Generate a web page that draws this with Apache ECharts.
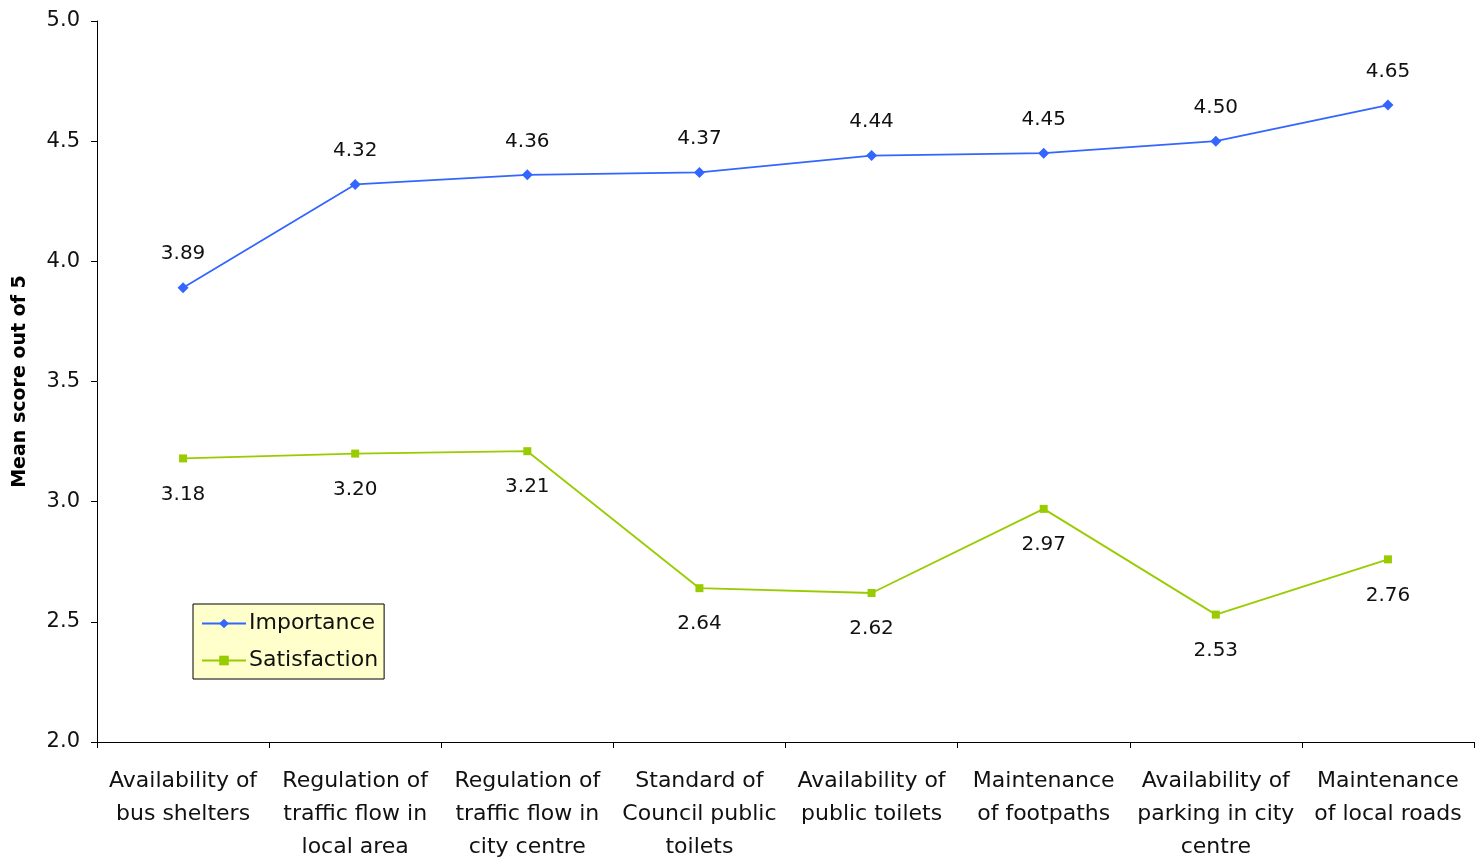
<!DOCTYPE html>
<html><head><meta charset="utf-8">
<script src="https://cdn.jsdelivr.net/npm/echarts@6/dist/echarts.min.js"></script>
<style>html,body{margin:0;padding:0;background:#fff}#c{width:1484px;height:861px}</style>
</head><body><div id="c"></div>
<script>
const categories = [
  "Availability of\nbus shelters",
  "Regulation of\ntraffic flow in\nlocal area",
  "Regulation of\ntraffic flow in\ncity centre",
  "Standard of\nCouncil public\ntoilets",
  "Availability of\npublic toilets",
  "Maintenance\nof footpaths",
  "Availability of\nparking in city\ncentre",
  "Maintenance\nof local roads"
];
const importance = [3.89, 4.32, 4.36, 4.37, 4.44, 4.45, 4.50, 4.65];
const satisfaction = [3.18, 3.20, 3.21, 2.64, 2.62, 2.97, 2.53, 2.76];
const yTicks = { min: 2.0, max: 5.0, interval: 0.5 };

const FONT = '"DejaVu Sans", sans-serif';
const chart = echarts.init(document.getElementById('c'), null, { renderer: 'canvas' });
chart.setOption({
  animation: false,
  textStyle: { fontFamily: FONT },
  grid: { left: 97, top: 21, right: 10, bottom: 119, containLabel: false, outerBoundsMode: 'none' },
  legend: {
    orient: 'vertical', left: 193, top: 604,
    backgroundColor: '#ffffcc', borderColor: '#000', borderWidth: 1,
    padding: [7, 6, 6, 8], itemGap: 12, itemWidth: 44, itemHeight: 12,
    textStyle: { fontFamily: FONT, fontSize: 22, color: '#111', lineHeight: 25, padding: [0, 0, 0, -2] },
    data: ['Importance', 'Satisfaction']
  },
  xAxis: {
    type: 'category', data: categories, boundaryGap: true,
    axisLine: { lineStyle: { color: '#000', width: 1 } },
    axisTick: { show: true, length: 6, interval: 0, lineStyle: { color: '#000' } },
    axisLabel: { interval: 0, fontFamily: FONT, fontSize: 22, color: '#111', lineHeight: 33, margin: 23 }
  },
  yAxis: {
    type: 'value', min: yTicks.min, max: yTicks.max, interval: yTicks.interval,
    name: 'Mean score out of 5', nameLocation: 'middle', nameGap: 67, nameRotate: 90,
    nameTextStyle: { fontFamily: FONT, fontSize: 19, fontWeight: 'bold', color: '#000' },
    axisLine: { show: true, lineStyle: { color: '#000', width: 1 } },
    axisTick: { show: true, length: 6, lineStyle: { color: '#000' } },
    splitLine: { show: false },
    axisLabel: { fontFamily: FONT, fontSize: 21, color: '#111', margin: 17, formatter: v => v.toFixed(1) }
  },
  series: [
    {
      name: 'Importance', type: 'line', data: importance,
      color: '#3366ff', symbol: 'diamond', symbolSize: 11,
      lineStyle: { width: 1.8, color: '#3366ff' },
      itemStyle: { color: '#3366ff' },
      label: { show: true, position: 'top', distance: 18, fontFamily: FONT, fontSize: 20, color: '#111', formatter: p => p.value.toFixed(2) }
    },
    {
      name: 'Satisfaction', type: 'line', data: satisfaction,
      color: '#99cc00', symbol: 'rect', symbolSize: 8,
      lineStyle: { width: 1.8, color: '#99cc00' },
      itemStyle: { color: '#99cc00' },
      label: { show: true, position: 'bottom', distance: 22, fontFamily: FONT, fontSize: 20, color: '#111', formatter: p => p.value.toFixed(2) }
    }
  ]
});
</script></body></html>
